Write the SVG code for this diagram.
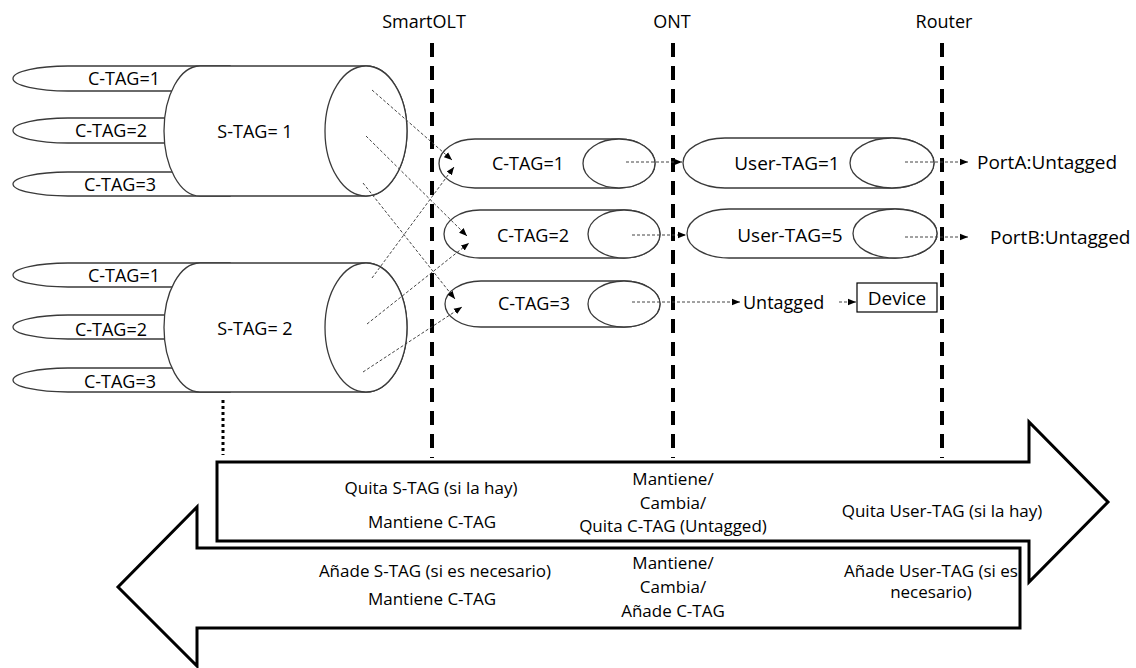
<svg xmlns="http://www.w3.org/2000/svg" width="1136" height="668" viewBox="0 0 1136 668">
  <style>
    .lbl { font-family: "Open Sans", "Liberation Sans", sans-serif; font-size: 18px; fill: #000; }
    .big-lbl { font-size: 19px; }
    .note { font-family: "Open Sans", "Liberation Sans", sans-serif; font-size: 17px; fill: #000; text-anchor: middle; }
    .mid { text-anchor: middle; }
    .shape { fill: #fff; stroke: #3a3a3a; stroke-width: 1.3; }
    .vline { stroke: #000; stroke-width: 4; stroke-dasharray: 14 9; fill: none; }
    .flow { stroke: #444; stroke-width: 1; stroke-dasharray: 3 2; fill: none; marker-end: url(#tip); }
    .big { fill: #fff; stroke: #000; stroke-width: 3; stroke-linejoin: miter; }
  </style>
  <defs>
    <marker id="tip" viewBox="0 0 10 10" refX="10" refY="5" markerWidth="8" markerHeight="8" markerUnits="userSpaceOnUse" orient="auto">
      <path d="M0,1 L10,5 L0,9 Z" fill="#000"/>
    </marker>
  </defs>

  <rect width="1136" height="668" fill="#fff"/>

  <!-- stage headers -->
  <g id="headers">
    <text class="lbl mid" x="424" y="28">SmartOLT</text>
    <text class="lbl mid" x="672" y="28">ONT</text>
    <text class="lbl mid" x="944" y="28">Router</text>
  </g>

  <!-- direction arrows at the bottom -->
  <g id="downstream">
    <path class="big" d="M217,462 L1029,462 L1029,422 L1108,502 L1029,582 L1029,541 L217,541 Z"/>
    <text class="note" x="431" y="494">Quita S-TAG (si la hay)</text>
    <text class="note" x="432" y="528">Mantiene C-TAG</text>
    <text class="note" x="673" y="485">Mantiene/</text>
    <text class="note" x="673" y="509">Cambia/</text>
    <text class="note" x="673" y="532">Quita C-TAG (Untagged)</text>
    <text class="note" x="942" y="517">Quita User-TAG (si la hay)</text>
  </g>
  <g id="upstream">
    <path class="big" d="M1020,548 L197,548 L197,507 L118,587 L197,666 L197,628 L1020,628 Z"/>
    <text class="note" x="435" y="577">Añade S-TAG (si es necesario)</text>
    <text class="note" x="432" y="605">Mantiene C-TAG</text>
    <text class="note" x="673" y="569">Mantiene/</text>
    <text class="note" x="673" y="593">Cambia/</text>
    <text class="note" x="673" y="617">Añade C-TAG</text>
    <text class="note" x="931" y="577">Añade User-TAG (si es</text>
    <text class="note" x="931" y="598">necesario)</text>
  </g>

  <!-- stage boundaries -->
  <g id="boundaries">
    <line class="vline" x1="432" y1="43" x2="432" y2="458"/>
    <line class="vline" x1="673" y1="43" x2="673" y2="458"/>
    <line class="vline" x1="942" y1="43" x2="942" y2="458"/>
    <line x1="223" y1="400" x2="223" y2="455" stroke="#000" stroke-width="3" stroke-dasharray="3 3"/>
  </g>

  <!-- S-TAG 1 trunk with its C-TAG members -->
  <g id="stag1">
    <path class="shape" d="M230,66 L68,66 A55,12.5 0 0 0 68,91 L230,91 Z"/>
    <path class="shape" d="M230,118 L68,118 A55,12.5 0 0 0 68,143 L230,143 Z"/>
    <path class="shape" d="M230,172 L68,172 A55,12 0 0 0 68,196 L230,196 Z"/>
    <text class="lbl mid" x="124" y="85">C-TAG=1</text>
    <text class="lbl mid" x="111" y="137">C-TAG=2</text>
    <text class="lbl mid" x="120" y="191">C-TAG=3</text>
    <path class="shape" d="M200,66 L366,66 A41,65 0 0 1 366,196 L200,196 A36,65 0 0 1 200,66 Z"/>
    <ellipse class="shape" cx="366" cy="131" rx="41" ry="65"/>
    <text class="lbl mid" x="255" y="138">S-TAG= 1</text>
  </g>

  <!-- S-TAG 2 trunk with its C-TAG members -->
  <g id="stag2">
    <path class="shape" d="M230,263 L68,263 A55,12 0 0 0 68,287 L230,287 Z"/>
    <path class="shape" d="M230,315 L68,315 A55,12 0 0 0 68,339 L230,339 Z"/>
    <path class="shape" d="M230,368 L68,368 A55,12 0 0 0 68,392 L230,392 Z"/>
    <text class="lbl mid" x="124" y="282">C-TAG=1</text>
    <text class="lbl mid" x="111" y="336">C-TAG=2</text>
    <text class="lbl mid" x="120" y="388">C-TAG=3</text>
    <path class="shape" d="M200,263 L366,263 A41,64.5 0 0 1 366,392 L200,392 A36,64.5 0 0 1 200,263 Z"/>
    <ellipse class="shape" cx="366" cy="327.5" rx="41" ry="64.5"/>
    <text class="lbl mid" x="255" y="335">S-TAG= 2</text>
  </g>

  <!-- C-TAG pipes after the OLT -->
  <g id="ctag1">
    <path class="shape" d="M475,139 L619,139 A36,24.5 0 0 1 619,188 L475,188 A36,24.5 0 0 1 475,139 Z"/>
    <ellipse class="shape" cx="619" cy="163.5" rx="36" ry="24.5"/>
    <text class="lbl mid" x="528" y="170">C-TAG=1</text>
  </g>
  <g id="ctag2">
    <path class="shape" d="M480,210 L624,210 A36,24 0 0 1 624,258 L480,258 A36,24 0 0 1 480,210 Z"/>
    <ellipse class="shape" cx="624" cy="234" rx="36" ry="24"/>
    <text class="lbl mid" x="533" y="242">C-TAG=2</text>
  </g>
  <g id="ctag3">
    <path class="shape" d="M481,281 L624,281 A36,23 0 0 1 624,327 L481,327 A36,23 0 0 1 481,281 Z"/>
    <ellipse class="shape" cx="624" cy="304" rx="36" ry="23"/>
    <text class="lbl mid" x="534" y="310">C-TAG=3</text>
  </g>

  <!-- User-TAG pipes after the ONT -->
  <g id="usertag1">
    <path class="shape" d="M725,138 L892,138 A42,25 0 0 1 892,188 L725,188 A42,25 0 0 1 725,138 Z"/>
    <ellipse class="shape" cx="892" cy="163" rx="42" ry="25"/>
    <text class="lbl mid big-lbl" x="787" y="170">User-TAG=1</text>
  </g>
  <g id="usertag5">
    <path class="shape" d="M729,209 L895,209 A42,24.5 0 0 1 895,258 L729,258 A42,24.5 0 0 1 729,209 Z"/>
    <ellipse class="shape" cx="895" cy="233.5" rx="42" ry="24.5"/>
    <text class="lbl mid big-lbl" x="790" y="242">User-TAG=5</text>
  </g>

  <!-- untagged branch -->
  <g id="untagged">
    <text class="lbl" x="743" y="309" font-size="20">Untagged</text>
  </g>
  <g id="device">
    <rect x="857" y="283" width="80" height="29" fill="#fff" stroke="#000" stroke-width="1.2"/>
    <text class="lbl mid big-lbl" x="897" y="305">Device</text>
  </g>

  <!-- router ports -->
  <g id="porta">
    <text class="lbl big-lbl" x="977" y="169">PortA:Untagged</text>
  </g>
  <g id="portb">
    <text class="lbl big-lbl" x="990" y="244">PortB:Untagged</text>
  </g>

  <!-- connectors -->
  <g id="connectors">
    <line class="flow" x1="372" y1="90" x2="452" y2="160"/>
    <line class="flow" x1="366" y1="136" x2="467" y2="236"/>
    <line class="flow" x1="363" y1="183" x2="455" y2="299"/>
    <line class="flow" x1="372" y1="278" x2="454" y2="167"/>
    <line class="flow" x1="367" y1="324" x2="469" y2="243"/>
    <line class="flow" x1="363" y1="372" x2="462" y2="307"/>
    <line class="flow" x1="626" y1="162" x2="682" y2="162"/>
    <line class="flow" x1="632" y1="235" x2="686" y2="235"/>
    <line class="flow" x1="632" y1="302" x2="740" y2="302"/>
    <line class="flow" x1="839" y1="302" x2="856" y2="302"/>
    <line class="flow" x1="905" y1="162" x2="968" y2="162"/>
    <line class="flow" x1="905" y1="237" x2="968" y2="237"/>
  </g>
</svg>
